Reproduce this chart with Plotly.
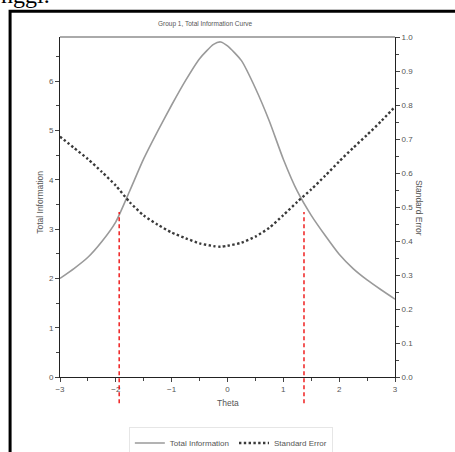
import plotly.graph_objects as go

# ---- data ----
theta = [-3.0, -2.75, -2.5, -2.25, -2.0, -1.75, -1.5, -1.25, -1.0, -0.75, -0.5, -0.25,
         -0.125, 0.0, 0.25, 0.5, 0.75, 1.0, 1.25, 1.5, 1.75, 2.0, 2.25, 2.5, 2.75, 3.0]
total_info = [2.00, 2.20, 2.43, 2.75, 3.15, 3.78, 4.43, 4.99, 5.52, 6.02, 6.46, 6.75,
              6.80, 6.72, 6.42, 5.86, 5.19, 4.42, 3.77, 3.28, 2.87, 2.49, 2.20, 1.97, 1.77, 1.58]
std_error = [0.707, 0.674, 0.641, 0.603, 0.563, 0.514, 0.475, 0.448, 0.425, 0.408, 0.393, 0.385,
             0.383, 0.386, 0.395, 0.413, 0.439, 0.476, 0.515, 0.552, 0.592, 0.634, 0.674, 0.712, 0.752, 0.795]
cut_theta = [-1.94, 1.37]
cut_info = [3.35, 3.35]
info_ticks = [0, 1, 2, 3, 4, 5, 6]
se_ticks = [0.0, 0.1, 0.2, 0.3, 0.4, 0.5, 0.6, 0.7, 0.8, 0.9, 1.0]
theta_ticks = [-3, -2, -1, 0, 1, 2, 3]

INFO_MAX = 6.9
FONT = "Liberation Sans"
TXT = "#555555"

fig = go.Figure()
fig.add_trace(go.Scatter(
    x=theta, y=total_info, mode="lines", name="Total Information",
    line=dict(color="#9a9a9a", width=1.6, shape="spline", smoothing=0.6),
    yaxis="y"))
fig.add_trace(go.Scatter(
    x=theta, y=std_error, mode="lines", name="Standard Error",
    line=dict(color="#3a3a3a", width=2.4, dash="2.4px,2.4px", shape="spline", smoothing=0.6),
    yaxis="y2"))

shapes = []
# red dashed cut lines (extend below axis)
for t, v in zip(cut_theta, cut_info):
    shapes.append(dict(type="line", xref="x", yref="paper", x0=t, x1=t,
                       y0=-0.077, y1=v / INFO_MAX,
                       line=dict(color="#ee1111", width=1.4, dash="4px,3px")))
# top frame line
shapes.append(dict(type="line", xref="paper", yref="paper", x0=0, x1=1, y0=1, y1=1,
                   line=dict(color="#aaaaaa", width=2)))
# outer black document box
shapes.append(dict(type="rect", xref="paper", yref="paper", x0=-0.149, x1=1.35, y0=-0.6, y1=1.076,
                   line=dict(color="black", width=3), fillcolor="rgba(0,0,0,0)"))

annotations = [
    dict(text="nggi.", xref="paper", yref="paper", x=-0.182, y=1.125, xanchor="left",
         yanchor="middle", showarrow=False, font=dict(family="Liberation Serif", size=24, color="black")),
    dict(text="Group 1, Total Information Curve", xref="paper", yref="paper", x=0.433, y=1.038,
         xanchor="center", yanchor="middle", showarrow=False, font=dict(family=FONT, size=6.5, color=TXT)),
    dict(text="Total Information", xref="paper", yref="paper", x=-0.06, y=0.515, textangle=-90,
         xanchor="center", yanchor="middle", showarrow=False, font=dict(family=FONT, size=8.5, color=TXT)),
    dict(text="Standard Error", xref="paper", yref="paper", x=1.072, y=0.497, textangle=90,
         xanchor="center", yanchor="middle", showarrow=False, font=dict(family=FONT, size=8.5, color=TXT)),
    dict(text="Theta", xref="paper", yref="paper", x=0.501, y=-0.076,
         xanchor="center", yanchor="middle", showarrow=False, font=dict(family=FONT, size=8.5, color=TXT)),
]

axis_common = dict(showgrid=False, zeroline=False, showline=True, linecolor="#222222", linewidth=1,
                   ticks="outside", ticklen=4, tickcolor="#444444",
                   tickfont=dict(family=FONT, size=8, color=TXT))

fig.update_layout(
    width=455, height=452, autosize=False,
    margin=dict(l=60, r=60, t=37, b=75, autoexpand=False),
    paper_bgcolor="white", plot_bgcolor="white",
    showlegend=True,
    legend=dict(orientation="h", x=0.51, y=-0.194, xanchor="center", yanchor="middle",
                bordercolor="#e6e6e6", borderwidth=1, font=dict(family=FONT, size=8, color=TXT),
                itemwidth=30),
    xaxis=dict(range=[-3, 3], tickvals=theta_ticks, minor=dict(dtick=0.5, ticks="outside", ticklen=3,
               tickcolor="#444444"), **axis_common),
    yaxis=dict(range=[0, INFO_MAX], tickvals=info_ticks, minor=dict(dtick=0.5, ticks="outside", ticklen=3,
               tickcolor="#444444"), **axis_common),
    yaxis2=dict(range=[0, 1], overlaying="y", side="right", tickvals=se_ticks, tickformat=".1f",
                minor=dict(dtick=0.05, ticks="outside", ticklen=3, tickcolor="#444444"), **axis_common),
    shapes=shapes,
    annotations=annotations,
)

fig.write_html("out.html", config={"displayModeBar": False},
               post_script="document.body.style.margin='0px';")
